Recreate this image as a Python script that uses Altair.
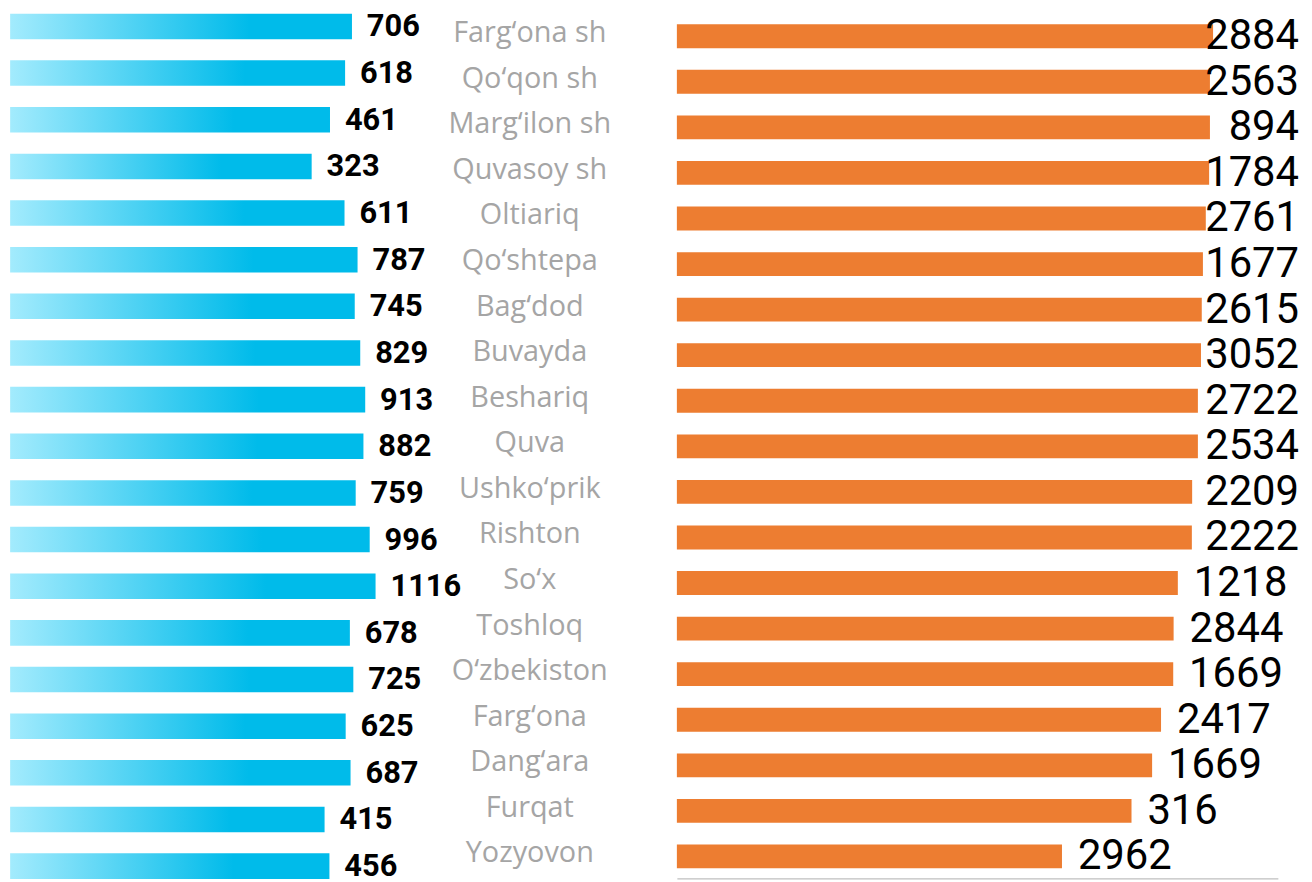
import altair as alt
import pandas as pd

names = ["Farg‘ona sh", "Qo‘qon sh", "Marg‘ilon sh", "Quvasoy sh", "Oltiariq",
         "Qo‘shtepa", "Bag‘dod", "Buvayda", "Beshariq", "Quva", "Ushko‘prik",
         "Rishton", "So‘x", "Toshloq", "O‘zbekiston", "Farg‘ona", "Dang‘ara",
         "Furqat", "Yozyovon"]
left_values = [706, 618, 461, 323, 611, 787, 745, 829, 913, 882, 759, 996,
               1116, 678, 725, 625, 687, 415, 456]
# orange bar lengths (log axis)
right_bars = [3050, 2910, 2910, 2875, 2735, 2620, 2575, 2545, 2430, 2430,
              2230, 2220, 1800, 1690, 1680, 1400, 1225, 900, 318]
# data labels printed next to the orange bars
right_labels = [2884, 2563, 894, 1784, 2761, 1677, 2615, 3052, 2722, 2534,
                2209, 2222, 1218, 2844, 1669, 2417, 1669, 316, 2962]

df = pd.DataFrame({
    "name": names,
    "left": left_values,
    "left_txt": [str(v) for v in left_values],
    "rbar": right_bars,
    "rlabel": [str(v) for v in right_labels],
})

grad = alt.Gradient(
    gradient="linear",
    stops=[alt.GradientStop(color="#a3ebfd", offset=0),
           alt.GradientStop(color="#00bbea", offset=0.7),
           alt.GradientStop(color="#00bbea", offset=1)],
    x1=0, x2=1, y1=0, y2=0,
)

base = alt.Chart(df).transform_calculate(base_l="0.93", base_r="1")

yL = alt.Y("name:N", sort=names, axis=None,
           scale=alt.Scale(range=[-7.6, 884.2], paddingInner=0.4525, paddingOuter=0.2263))
xL = alt.X("left:Q", axis=None,
           scale=alt.Scale(type="log", domain=[0.93, 10000], range=[2.15, 483.55], nice=False))

left_bars = base.mark_bar(color=grad).encode(x=xL, x2="base_l:Q", y=yL)
left_text = base.mark_text(align="left", baseline="middle", dx=15, dy=1,
                           font="Roboto", fontSize=31, fontWeight="bold",
                           color="#000000").encode(x=xL, y=yL, text="left_txt:N")
left = alt.layer(left_bars, left_text)

yR = alt.Y("name:N", sort=names, axis=None,
           scale=alt.Scale(range=[2.77, 873.9], paddingInner=0.4766, paddingOuter=0.2383))
xR = alt.X("rbar:Q",
           scale=alt.Scale(type="log", domain=[1, 8040], range=[673, 1277.7], nice=False),
           axis=alt.Axis(orient="bottom", offset=-1, domain=True, domainColor="#bfbfbf",
                         domainWidth=1.3, ticks=False, labels=False, grid=False, title=None))

right_bars_l = base.mark_bar(color="#ED7D31").encode(x=xR, x2="base_r:Q", y=yR)
right_text_clamped = base.transform_filter("datum.rbar >= 2000").mark_text(
    align="right", baseline="middle", font="Roboto", fontSize=42, color="#000000"
).encode(x=alt.value(1299), y=yR, text="rlabel:N")
right_text_free = base.transform_filter("datum.rbar < 2000").mark_text(
    align="left", baseline="middle", dx=16, font="Roboto", fontSize=42, color="#000000"
).encode(x=xR, y=yR, text="rlabel:N")
name_text = base.mark_text(align="center", baseline="middle", dy=-3,
                           font="Open Sans", fontSize=29, color="#a5a5a5").encode(
    x=alt.value(525), y=yR, text="name:N")
right = alt.layer(right_bars_l, right_text_clamped, right_text_free, name_text)

chart = alt.layer(left, right).resolve_scale(x="independent", y="independent").properties(
    width=1304, height=874, padding=0,
    autosize=alt.AutoSizeParams(type="none"),
).configure_view(strokeWidth=0)

chart.save("out.html", embed_options={"renderer": "svg", "actions": False})
